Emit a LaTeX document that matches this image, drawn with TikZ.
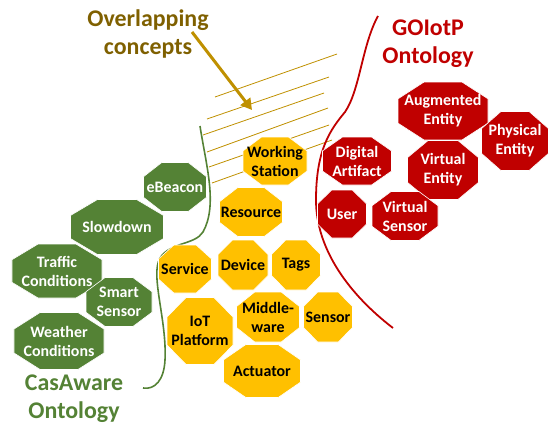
\documentclass[tikz,border=0pt]{standalone}
\usepackage{fontspec}
\setmainfont{Carlito}
\usepackage{tikz}
\usetikzlibrary{arrows.meta}

% Stretched octagon: a rectangle with its corners cut at 29% of each side
\makeatletter
\newdimen\octL \newdimen\octR \newdimen\octB \newdimen\octT
\newdimen\octDX \newdimen\octDY
\pgfdeclareshape{octagon box}{%
  \inheritsavedanchors[from=rectangle]%
  \inheritanchorborder[from=rectangle]%
  \inheritanchor[from=rectangle]{center}%
  \inheritanchor[from=rectangle]{north}%
  \inheritanchor[from=rectangle]{south}%
  \inheritanchor[from=rectangle]{east}%
  \inheritanchor[from=rectangle]{west}%
  \inheritanchor[from=rectangle]{north east}%
  \inheritanchor[from=rectangle]{north west}%
  \inheritanchor[from=rectangle]{south east}%
  \inheritanchor[from=rectangle]{south west}%
  \backgroundpath{%
    \southwest \octL=\pgf@x \octB=\pgf@y
    \northeast \octR=\pgf@x \octT=\pgf@y
    \octDX=\octR \advance\octDX by-\octL \octDX=0.29\octDX
    \octDY=\octT \advance\octDY by-\octB \octDY=0.29\octDY
    \pgfpathmoveto{\pgfpoint{\octL}{\octB+\octDY}}%
    \pgfpathlineto{\pgfpoint{\octL}{\octT-\octDY}}%
    \pgfpathlineto{\pgfpoint{\octL+\octDX}{\octT}}%
    \pgfpathlineto{\pgfpoint{\octR-\octDX}{\octT}}%
    \pgfpathlineto{\pgfpoint{\octR}{\octT-\octDY}}%
    \pgfpathlineto{\pgfpoint{\octR}{\octB+\octDY}}%
    \pgfpathlineto{\pgfpoint{\octR-\octDX}{\octB}}%
    \pgfpathlineto{\pgfpoint{\octL+\octDX}{\octB}}%
    \pgfpathclose
  }%
}
\makeatother

\begin{document}
\begin{tikzpicture}[
    x=1bp, y=-1bp,
    octo/.style n args={2}{octagon box, draw=white, line width=0.6pt, inner sep=0pt, outer sep=0pt, minimum width=#1bp, minimum height=#2bp, align=center, font=\fontsize{16}{19}\selectfont\bfseries},
    casa/.style={fill=casgreen, text=white},
    shared/.style={fill=sharedyellow, text=black},
    goiotp/.style={fill=goired, text=white},
    title/.style={align=center, font=\fontsize{24}{28}\selectfont\bfseries},
    hatch/.style={draw=arrowgold, line width=0.8pt}
]

% Define ontology colors
\definecolor{casgreen}{RGB}{84,130,53}        % CasAware green
\definecolor{sharedyellow}{RGB}{255,192,0}    % Overlap yellow
\definecolor{goired}{RGB}{192,0,0}            % GOIotP red
\definecolor{titlegold}{RGB}{127,96,0}
\definecolor{arrowgold}{RGB}{191,144,0}

\useasboundingbox (0,0) rectangle (549,428);

% Hatching of the overlap zone
\draw[hatch] (215,97) -- (337,54);
\draw[hatch] (207,119) -- (329,77);
\draw[hatch] (203,135) -- (324,93);
\draw[hatch] (207,152) -- (328,108);
\draw[hatch] (209,167) -- (329,125);
\draw[hatch] (212,183) -- (332,140);

% Ontology borders
\draw[casgreen, line width=1.6pt] (200,126) .. controls (206,165) and (218,205) .. (203,232) .. controls (195,245) and (170,242) .. (160,258) .. controls (150,275) and (167,320) .. (165,360) .. controls (164,380) and (155,390) .. (143,388);
\draw[goired, line width=1.8pt] (378,16) .. controls (362,45) and (360,90) .. (345,112) .. controls (330,130) and (316,150) .. (316,200) .. controls (316,250) and (350,295) .. (393,328);

% Titles
\node[title, text=titlegold] (overlap) at (148,34) {Overlapping\\concepts};
\node[title, text=goired] (gotitle) at (428,44) {GOIotP\\Ontology};
\node[title, text=casgreen] (castitle) at (74,399) {CasAware\\Ontology};

% CasAware concepts
\node[octo={63}{49}, casa] (ebeacon) at (175,187) {eBeacon};
\node[octo={93}{55}, casa] (slowdown) at (117,227) {Slowdown};
\node[octo={90}{54}, casa] (traffic) at (57,271) {Traffic\\Conditions};
\node[octo={66}{49}, casa] (smart) at (119,302) {Smart\\Sensor};
\node[octo={90}{57}, casa] (weather) at (59,341) {Weather\\Conditions};

% Shared concepts
\node[octo={64}{48}, shared] (working) at (275,161) {Working\\Station};
\node[octo={63}{49}, shared] (resource) at (251,212) {Resource};
\node[octo={53}{48}, shared] (service) at (185,269) {Service};
\node[octo={50}{50}, shared] (device) at (243,265) {Device};
\node[octo={49}{50}, shared] (tags) at (296,265) {Tags};
\node[octo={66}{67}, shared] (iot) at (200,331) {IoT\\Platform};
\node[octo={63}{50}, shared] (middleware) at (268,317) {Middle-\\ware};
\node[octo={49}{50}, shared] (sensor) at (328,317) {Sensor};
\node[octo={77}{53}, shared] (actuator) at (262,371) {Actuator};

% GOIotP concepts
\node[octo={69}{48}, goiotp] (digital) at (357,161) {Digital\\Artifact};
\node[octo={90}{58}, goiotp] (augmented) at (443,111) {Augmented\\Entity};
\node[octo={67}{59}, goiotp] (physical) at (515,141) {Physical\\Entity};
\node[octo={71}{59}, goiotp] (ventity) at (443,170) {Virtual\\Entity};
\node[octo={49}{48}, goiotp] (user) at (342,214) {User};
\node[octo={66}{49}, goiotp] (vsensor) at (405,216) {Virtual\\Sensor};

% Pointer to the overlap
\coordinate (tail) at (192,32);
\coordinate (tip) at (252,110);
\draw[arrowgold, line width=3pt, -{Triangle[length=11bp, width=12bp]}] (tail) -- (tip);

\end{tikzpicture}
\end{document}
